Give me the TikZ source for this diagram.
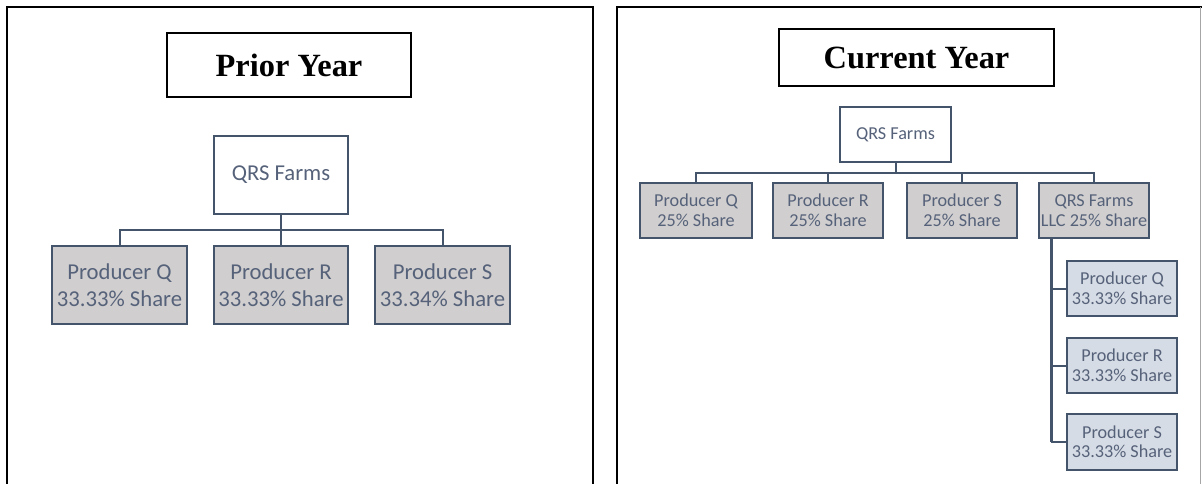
\documentclass[tikz,border=0pt]{standalone}
\usepackage{fontspec}
\setmainfont{Carlito}
\newfontfamily\titlefont{Liberation Serif}
\definecolor{edge}{HTML}{44546A}
\definecolor{txt}{HTML}{56627A}
\definecolor{greyfill}{HTML}{D0CECE}
\definecolor{bluefill}{HTML}{D6DCE5}
\begin{document}
\begin{tikzpicture}[x=1pt,y=-1pt,
  frame/.style={line width=2.4pt,black},
  titlebox/.style={draw=black,line width=2pt,fill=white,inner sep=0pt,
    font=\titlefont\bfseries\fontsize{32.4}{35}\selectfont},
  bigbox/.style={draw=edge,line width=2pt,inner sep=0pt,text=txt,align=center,
    minimum width=134pt,minimum height=78pt,font=\fontsize{22.7}{27}\selectfont},
  smallbox/.style={draw=edge,line width=2pt,inner sep=0pt,text=txt,align=center,
    minimum width=110pt,minimum height=55pt,font=\fontsize{18.2}{19.5}\selectfont},
  conn/.style={draw=edge,line width=2pt},
  thickconn/.style={draw=edge,line width=3pt}]
\useasboundingbox (0,0) rectangle (1202,484);
% frames
\draw[frame] (7,486) -- (7,7) -- (593,7) -- (593,486);
\draw[frame] (617,486) -- (617,7) -- (1202,7);
\draw[line width=1pt,gray!70] (1200.5,7) -- (1200.5,486);
% titles
\node[titlebox,minimum width=244pt,minimum height=64pt] (t1) at (289,65) {Prior Year};
\node[titlebox,minimum width=275pt,minimum height=57pt] (t2) at (916.5,57.5) {Current Year};
% left tree
\node[bigbox,fill=white] (ltop) at (281,175) {QRS Farms};
\node[bigbox,fill=greyfill,minimum width=135pt] (lQ) at (119.5,285) {Producer Q\\33.33\% Share};
\node[bigbox,fill=greyfill] (lR) at (281,285) {Producer R\\33.33\% Share};
\node[bigbox,fill=greyfill,minimum width=135pt] (lS) at (442.5,285) {Producer S\\33.34\% Share};
\coordinate (lbus) at (281,230);
\draw[conn] (ltop.south) -- (lbus);
\draw[conn] (lQ.north) |- (lbus);
\draw[conn] (lS.north) |- (lbus);
\draw[conn] (lR.north) -- (lbus);
% right tree
\node[smallbox,fill=white,minimum width=111pt] (rtop) at (895.5,134.5) {QRS Farms};
\node[smallbox,fill=greyfill,minimum width=112pt] (rQ) at (696,210.5) {Producer Q\\25\% Share};
\node[smallbox,fill=greyfill] (rR) at (828,210.5) {Producer R\\25\% Share};
\node[smallbox,fill=greyfill] (rS) at (962,210.5) {Producer S\\25\% Share};
\node[smallbox,fill=greyfill] (rL) at (1094,210.5) {QRS Farms\\LLC 25\% Share};
\coordinate (rbus) at (895.5,173);
\draw[conn] (rtop.south) -- (rbus);
\draw[conn] (rQ.north) |- (rbus);
\draw[conn] (rR.north) |- (rbus);
\draw[conn] (rS.north) |- (rbus);
\draw[conn] (rL.north) |- (rbus);
% sub tree
\node[smallbox,fill=bluefill] (sQ) at (1122,288.5) {Producer Q\\33.33\% Share};
\node[smallbox,fill=bluefill] (sR) at (1122,365.5) {Producer R\\33.33\% Share};
\node[smallbox,fill=bluefill,minimum height=56pt] (sS) at (1122,442) {Producer S\\33.33\% Share};
\coordinate (vx) at (1051,442);
\draw[thickconn] (rL.south -| vx) -- (vx);
\draw[conn] (vx) -- (sS.west);
\draw[conn] (sQ.west) -- (sQ.west -| vx);
\draw[conn] (sR.west) -- (sR.west -| vx);
\end{tikzpicture}
\end{document}
